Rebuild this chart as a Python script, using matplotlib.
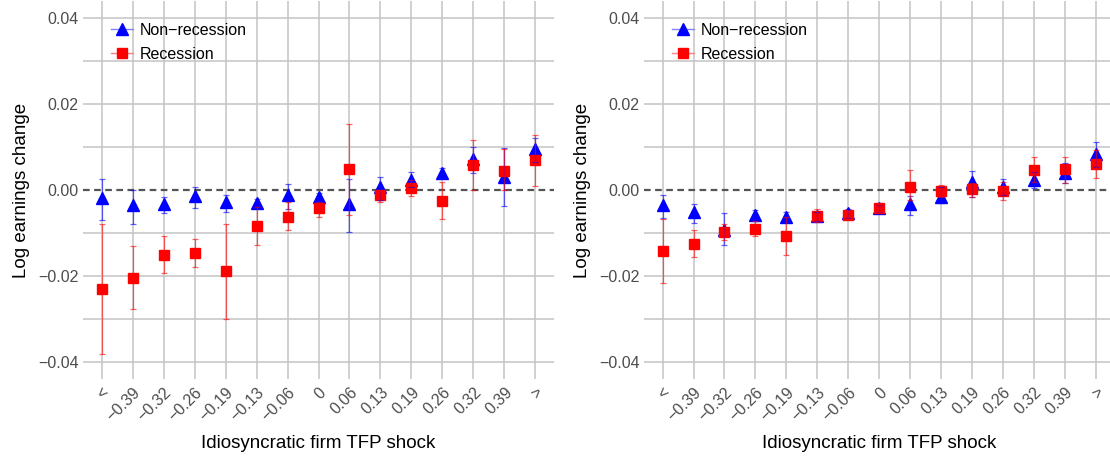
import numpy as np
import matplotlib
matplotlib.use("Agg")
import matplotlib.pyplot as plt
from matplotlib.lines import Line2D

plt.rcParams['font.family'] = ['Liberation Sans', 'DejaVu Sans']

# bins del shock de TFP idiosincratico
etiquetas = ['<', '\u22120.39', '\u22120.32', '\u22120.26', '\u22120.19', '\u22120.13', '\u22120.06', '0',
             '0.06', '0.13', '0.19', '0.26', '0.32', '0.39', '>']

# panel izquierdo
izq_norec = [-0.0019, -0.0036, -0.0033, -0.0014, -0.0029, -0.0031, -0.0012, -0.0016,
             -0.0033, 0.0006, 0.0023, 0.0039, 0.0072, 0.0031, 0.0095]
izq_norec_lo = [-0.0070, -0.0078, -0.0053, -0.0043, -0.0051, -0.0043, -0.0045, -0.0027,
                -0.0097, -0.0023, 0.0006, 0.0029, 0.0039, -0.0038, 0.0066]
izq_norec_hi = [0.0026, 0.0000, -0.0017, 0.0008, -0.0011, -0.0020, 0.0015, -0.0007,
                0.0025, 0.0031, 0.0042, 0.0051, 0.0101, 0.0098, 0.0122]
izq_rec = [-0.0230, -0.0204, -0.0151, -0.0147, -0.0188, -0.0083, -0.0062, -0.0043,
           0.0050, -0.0011, 0.0005, -0.0025, 0.0057, 0.0045, 0.0070]
izq_rec_lo = [-0.0381, -0.0277, -0.0194, -0.0178, -0.0300, -0.0129, -0.0094, -0.0062,
              -0.0057, -0.0029, -0.0014, -0.0067, 0.0000, 0.0000, 0.0010]
izq_rec_hi = [-0.0080, -0.0130, -0.0106, -0.0114, -0.0078, -0.0039, -0.0029, -0.0027,
              0.0153, 0.0000, 0.0023, 0.0019, 0.0116, 0.0095, 0.0129]

# panel derecho
der_norec = [-0.0035, -0.0052, -0.0093, -0.0058, -0.0062, -0.0060, -0.0054, -0.0042,
             -0.0033, -0.0016, 0.0019, 0.0006, 0.0023, 0.0039, 0.0083]
der_norec_lo = [-0.0064, -0.0076, -0.0129, -0.0071, -0.0074, -0.0072, -0.0064, -0.0050,
                -0.0058, -0.0030, -0.0016, -0.0012, 0.0004, 0.0017, 0.0054]
der_norec_hi = [-0.0011, -0.0033, -0.0053, -0.0047, -0.0050, -0.0050, -0.0044, -0.0034,
                -0.0013, 0.0006, 0.0045, 0.0026, 0.0041, 0.0063, 0.0112]
der_rec = [-0.0143, -0.0125, -0.0097, -0.0090, -0.0106, -0.0060, -0.0058, -0.0042,
           0.0008, -0.0002, 0.0003, -0.0002, 0.0047, 0.0048, 0.0060]
der_rec_lo = [-0.0217, -0.0155, -0.0116, -0.0107, -0.0152, -0.0074, -0.0068, -0.0050,
              -0.0023, -0.0017, -0.0016, -0.0023, 0.0018, 0.0017, 0.0028]
der_rec_hi = [-0.0068, -0.0093, -0.0078, -0.0072, -0.0062, -0.0045, -0.0049, -0.0034,
              0.0046, 0.0012, 0.0016, 0.0019, 0.0077, 0.0077, 0.0093]

AZUL = '#0000FF'
ROJO = '#FF0000'
GRIS = '#4D4D4D'


def panel(ax, norec, norec_lo, norec_hi, rec, rec_lo, rec_hi):
    x = np.arange(len(etiquetas))
    ax.set_facecolor('white')
    for s in ax.spines.values():
        s.set_visible(False)

    # grilla estilo ggplot
    for yv in [-0.04, -0.03, -0.02, -0.01, 0.01, 0.02, 0.03, 0.04]:
        ax.axhline(yv, color='#C4C4C4', lw=1.1, zorder=0)
    for xv in x:
        ax.axvline(xv, color='#C4C4C4', lw=1.1, zorder=0)
    ax.axhline(0, color='#555555', lw=1.6, ls=(0, (3, 2)), zorder=1)

    norec = np.array(norec)
    rec = np.array(rec)
    ax.plot(x, norec, ls='none', marker='^', ms=9, color=AZUL, zorder=3)
    ax.plot(x, rec, ls='none', marker='s', ms=7.5, color=ROJO, zorder=4)
    ax.errorbar(x, norec, yerr=[norec - np.array(norec_lo), np.array(norec_hi) - norec],
                fmt='none', ecolor=AZUL, elinewidth=0.9, capsize=2.5, capthick=0.9,
                alpha=0.6, zorder=5)
    ax.errorbar(x, rec, yerr=[rec - np.array(rec_lo), np.array(rec_hi) - rec],
                fmt='none', ecolor=ROJO, elinewidth=0.9, capsize=2.5, capthick=0.9,
                alpha=0.6, zorder=6)

    ax.set_xlim(-0.6, len(etiquetas) - 0.4)
    ax.set_ylim(-0.044, 0.044)
    ax.set_xticks(x)
    ax.set_xticklabels(etiquetas, rotation=45, ha='right', va='top', rotation_mode='anchor')
    ax.set_yticks([-0.04, -0.02, 0, 0.02, 0.04])
    ax.set_yticklabels(['\u22120.04', '\u22120.02', '0.00', '0.02', '0.04'])
    ax.tick_params(axis='both', length=0, labelsize=11.5, labelcolor=GRIS)
    ax.tick_params(axis='x', pad=4)
    ax.tick_params(axis='y', pad=3)
    ax.set_xlabel('Idiosyncratic firm TFP shock', fontsize=13.5, labelpad=8)
    ax.set_ylabel('Log earnings change', fontsize=13.5, labelpad=6)

    h1 = Line2D([], [], color='#8080FF', marker='^', ms=9, lw=1,
                markerfacecolor=AZUL, markeredgecolor=AZUL)
    h2 = Line2D([], [], color='#FF8080', marker='s', ms=7.5, lw=1,
                markerfacecolor=ROJO, markeredgecolor=ROJO)
    ax.legend([h1, h2], ['Non\u2212recession', 'Recession'], loc='upper left',
              bbox_to_anchor=(0.045, 0.959), frameon=False, fontsize=11.5,
              handlelength=1.4, handletextpad=0.4, labelspacing=0.58, borderaxespad=0)


fig = plt.figure(figsize=(11.1, 4.57), dpi=100)
ax1 = fig.add_axes([83 / 1110, 1 - 379.2 / 457, 471 / 1110, 378.4 / 457])
ax2 = fig.add_axes([644 / 1110, 1 - 379.2 / 457, 470.6 / 1110, 378.4 / 457])
panel(ax1, izq_norec, izq_norec_lo, izq_norec_hi, izq_rec, izq_rec_lo, izq_rec_hi)
panel(ax2, der_norec, der_norec_lo, der_norec_hi, der_rec, der_rec_lo, der_rec_hi)

fig.savefig('out.png', dpi=100)
